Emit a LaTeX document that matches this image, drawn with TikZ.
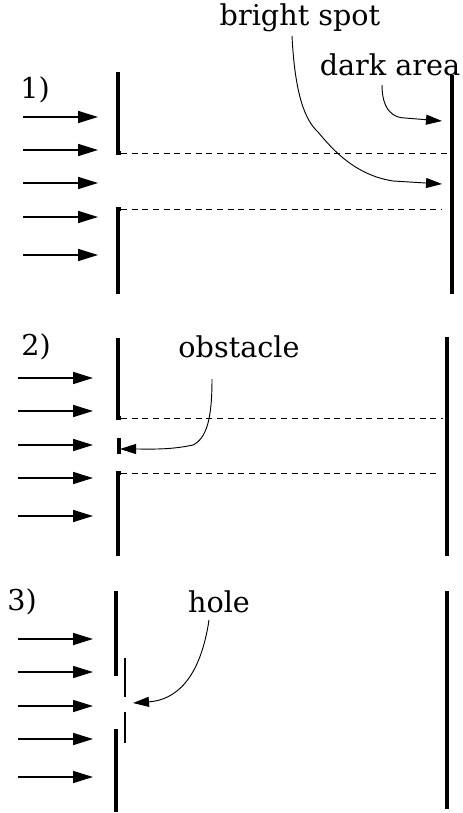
\documentclass[tikz,border=0pt]{standalone}
\usepackage{fontspec}
\setmainfont{DejaVu Serif}
\usetikzlibrary{arrows.meta}
\begin{document}
\begin{tikzpicture}[x=0.75pt,y=-0.75pt,
  wall/.style={line width=2.4pt,line cap=butt},
  thinwall/.style={line width=0.9pt},
  ray/.style={line width=1.2pt,-{Triangle[length=15pt,width=9pt]}},
  lbl/.style={inner sep=0pt,font=\fontsize{21.5}{24}\selectfont},
  pointer/.style={line width=0.7pt,-{Triangle[length=12pt,width=7.5pt]}},
  guide/.style={line width=0.7pt,dash pattern=on 4.5pt off 3.5pt}]
\useasboundingbox (0,0) rectangle (462,813);
% ---------- panel 1 ----------
\node[lbl] (n1) at (35,90) {1)};
\node[lbl] (bs) at (300,18) {bright spot};
\node[lbl] (da) at (390,65) {dark area};
\foreach \y [count=\i] in {117,150,183,217,255}{
  \coordinate (a1s\i) at (23,\y); \coordinate (a1e\i) at (98,\y);
  \draw[ray] (a1s\i) -- (a1e\i);}
\coordinate (w1a) at (118,72); \coordinate (w1b) at (118,153);
\coordinate (w1c) at (118,209); \coordinate (w1d) at (118,294);
\draw[wall] (w1a) -- (w1b) -- ++(3,0);
\draw[wall] (w1d) -- (w1c) -- ++(3,0);
\coordinate (s1a) at (452,75); \coordinate (s1b) at (452,294);
\draw[wall] (s1a) -- (s1b);
\draw[guide] (121,153) -- (452,153);
\draw[guide] (121,209) -- (442,209);
\coordinate (da0) at (382,85); \coordinate (da1) at (442,121);
\draw[pointer] (da0) .. controls (382,112) and (395,118) .. (405,118) -- (da1);
\coordinate (bs0) at (292,36); \coordinate (bs1) at (442,184);
\draw[pointer] (bs0) .. controls (295,95) and (305,120) .. (318,132)
  .. controls (333,150) and (355,175) .. (393,181) -- (bs1);
% ---------- panel 2 ----------
\node[lbl] (n2) at (36,347) {2)};
\node[lbl] (ob) at (239,347) {obstacle};
\foreach \y [count=\i] in {378,411,445,478,516}{
  \coordinate (a2s\i) at (18,\y); \coordinate (a2e\i) at (93,\y);
  \draw[ray] (a2s\i) -- (a2e\i);}
\coordinate (w2a) at (118,338); \coordinate (w2b) at (118,418);
\coordinate (w2c) at (118,473); \coordinate (w2d) at (118,556);
\draw[wall] (w2a) -- (w2b) -- ++(3,0);
\draw[wall] (w2d) -- (w2c) -- ++(3,0);
\coordinate (o2a) at (119,438); \coordinate (o2b) at (119,454);
\draw[wall] (o2a) -- (o2b);
\coordinate (s2a) at (447,337); \coordinate (s2b) at (447,556);
\draw[wall] (s2a) -- (s2b);
\draw[guide] (121,418) -- (443,418);
\draw[guide] (121,473) -- (441,473);
\coordinate (ob0) at (212,379); \coordinate (ob1) at (120,449);
\draw[pointer] (ob0) .. controls (212,418) and (207,438) .. (193,445)
  .. controls (170,450) and (150,449) .. (ob1);
% ---------- panel 3 ----------
\node[lbl] (n3) at (22,602) {3)};
\node[lbl] (ho) at (219,602) {hole};
\foreach \y [count=\i] in {639,672,706,739,777}{
  \coordinate (a3s\i) at (18,\y); \coordinate (a3e\i) at (93,\y);
  \draw[ray] (a3s\i) -- (a3e\i);}
\coordinate (w3a) at (116,591); \coordinate (w3b) at (116,676);
\coordinate (w3c) at (116,729); \coordinate (w3d) at (116,812);
\draw[wall] (w3a) -- (w3b);
\draw[wall] (w3c) -- (w3d);
\coordinate (t3a) at (125,658); \coordinate (t3b) at (125,697);
\coordinate (t3c) at (125,712); \coordinate (t3d) at (125,743);
\draw[thinwall] (t3a) -- (t3b);
\draw[thinwall] (t3c) -- (t3d);
\coordinate (s3a) at (447,591); \coordinate (s3b) at (447,809);
\draw[wall] (s3a) -- (s3b);
\coordinate (ho0) at (209,620); \coordinate (ho1) at (133,703);
\draw[pointer] (ho0) .. controls (200,680) and (175,700) .. (ho1);
\end{tikzpicture}
\end{document}
